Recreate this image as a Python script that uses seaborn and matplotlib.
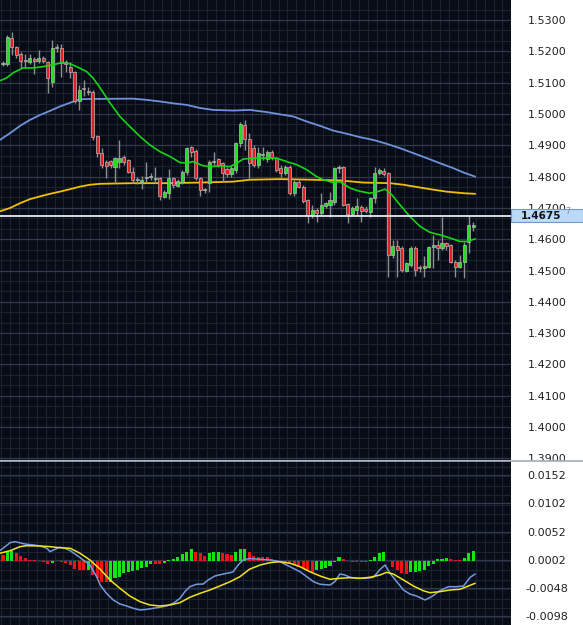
import numpy as np
import pandas as pd
import seaborn as sns
import matplotlib.pyplot as plt
from matplotlib.patches import Rectangle
from matplotlib.lines import Line2D

# ---- price bars (OHLC), one per period ----
opens = [1.5160, 1.5160, 1.5243, 1.5214, 1.5192, 1.5173, 1.5166, 1.5176, 1.5169, 1.5179,
         1.5166, 1.5102, 1.5211, 1.5211, 1.5166, 1.5150, 1.5134, 1.5042, 1.5083, 1.5074,
         1.5071, 1.4930, 1.4876, 1.4847, 1.4850, 1.4831, 1.4847, 1.4863, 1.4854, 1.4815,
         1.4790, 1.4783, 1.4796, 1.4799, 1.4793, 1.4796, 1.4736, 1.4748, 1.4796, 1.4771,
         1.4783, 1.4815, 1.4895, 1.4882, 1.4796, 1.4758, 1.4780, 1.4847, 1.4857, 1.4844,
         1.4825, 1.4809, 1.4822, 1.4908, 1.4965, 1.4921, 1.4892, 1.4838, 1.4870, 1.4857,
         1.4879, 1.4860, 1.4828, 1.4812, 1.4831, 1.4748, 1.4783, 1.4767, 1.4726, 1.4678,
         1.4694, 1.4685, 1.4707, 1.4710, 1.4720, 1.4828, 1.4831, 1.4713, 1.4681, 1.4694,
         1.4704, 1.4697, 1.4688, 1.4732, 1.4812, 1.4819, 1.4812, 1.4551, 1.4579, 1.4573,
         1.4500, 1.4519, 1.4573, 1.4512, 1.4509, 1.4512, 1.4576, 1.4582, 1.4573, 1.4589,
         1.4582, 1.4528, 1.4512, 1.4528, 1.4592, 1.4640]
closes = [1.5163, 1.5246, 1.5214, 1.5189, 1.5169, 1.5169, 1.5179, 1.5169, 1.5179, 1.5169,
          1.5115, 1.5211, 1.5214, 1.5163, 1.5160, 1.5134, 1.5042, 1.5077, 1.5080, 1.5071,
          1.4927, 1.4876, 1.4838, 1.4834, 1.4838, 1.4860, 1.4860, 1.4847, 1.4815, 1.4790,
          1.4793, 1.4790, 1.4799, 1.4803, 1.4796, 1.4739, 1.4752, 1.4796, 1.4774, 1.4787,
          1.4815, 1.4892, 1.4879, 1.4796, 1.4758, 1.4761, 1.4847, 1.4850, 1.4838, 1.4812,
          1.4809, 1.4828, 1.4908, 1.4968, 1.4921, 1.4844, 1.4838, 1.4876, 1.4873, 1.4879,
          1.4860, 1.4822, 1.4812, 1.4831, 1.4748, 1.4783, 1.4767, 1.4723, 1.4678, 1.4694,
          1.4685, 1.4710, 1.4716, 1.4726, 1.4828, 1.4831, 1.4710, 1.4681, 1.4700, 1.4707,
          1.4691, 1.4691, 1.4732, 1.4812, 1.4822, 1.4809, 1.4551, 1.4579, 1.4567, 1.4503,
          1.4525, 1.4573, 1.4503, 1.4509, 1.4515, 1.4576, 1.4582, 1.4573, 1.4589, 1.4579,
          1.4528, 1.4512, 1.4528, 1.4582, 1.4646, 1.4646]
highs = [1.5169, 1.5252, 1.5262, 1.5217, 1.5198, 1.5192, 1.5192, 1.5182, 1.5204, 1.5185,
         1.5169, 1.5236, 1.5224, 1.5224, 1.5173, 1.5166, 1.5138, 1.5093, 1.5109, 1.5086,
         1.5077, 1.4933, 1.4892, 1.4854, 1.4854, 1.4863, 1.4917, 1.4870, 1.4857, 1.4831,
         1.4799, 1.4803, 1.4847, 1.4812, 1.4831, 1.4799, 1.4758, 1.4825, 1.4799, 1.4793,
         1.4822, 1.4895, 1.4898, 1.4889, 1.4799, 1.4764, 1.4854, 1.4879, 1.4860, 1.4847,
         1.4831, 1.4834, 1.4911, 1.4975, 1.4981, 1.4940, 1.4901, 1.4895, 1.4895, 1.4886,
         1.4886, 1.4863, 1.4838, 1.4838, 1.4838, 1.4790, 1.4790, 1.4774, 1.4729, 1.4710,
         1.4700, 1.4748, 1.4720, 1.4752, 1.4831, 1.4838, 1.4834, 1.4716, 1.4707, 1.4732,
         1.4710, 1.4707, 1.4736, 1.4831, 1.4828, 1.4828, 1.4815, 1.4598, 1.4598, 1.4579,
         1.4528, 1.4579, 1.4579, 1.4519, 1.4547, 1.4579, 1.4614, 1.4598, 1.4672, 1.4592,
         1.4586, 1.4535, 1.4551, 1.4592, 1.4675, 1.4656]
lows = [1.5153, 1.5153, 1.5189, 1.5179, 1.5147, 1.5147, 1.5160, 1.5128, 1.5163, 1.5163,
        1.5067, 1.5086, 1.5198, 1.5118, 1.5134, 1.5115, 1.5035, 1.5013, 1.5058, 1.5061,
        1.4917, 1.4863, 1.4828, 1.4796, 1.4828, 1.4780, 1.4828, 1.4838, 1.4812, 1.4780,
        1.4777, 1.4761, 1.4783, 1.4790, 1.4780, 1.4726, 1.4732, 1.4729, 1.4764, 1.4767,
        1.4777, 1.4806, 1.4863, 1.4790, 1.4739, 1.4748, 1.4752, 1.4838, 1.4831, 1.4783,
        1.4799, 1.4799, 1.4812, 1.4895, 1.4886, 1.4796, 1.4831, 1.4828, 1.4854, 1.4847,
        1.4854, 1.4815, 1.4799, 1.4806, 1.4742, 1.4739, 1.4764, 1.4716, 1.4653, 1.4669,
        1.4656, 1.4678, 1.4700, 1.4672, 1.4710, 1.4812, 1.4707, 1.4653, 1.4675, 1.4678,
        1.4656, 1.4685, 1.4672, 1.4716, 1.4806, 1.4803, 1.4480, 1.4541, 1.4480, 1.4496,
        1.4496, 1.4512, 1.4484, 1.4496, 1.4480, 1.4509, 1.4509, 1.4535, 1.4567, 1.4567,
        1.4525, 1.4480, 1.4509, 1.4477, 1.4557, 1.4627]

# ---- moving averages (bar position, price) ----
ma_fast_x = [-0.7, 0.8, 2.3, 4.5, 6.7, 8.9, 11.2, 13.1, 15.0, 16.5, 18.7, 20.1, 21.7, 23.9,
             26.1, 28.3, 30.6, 32.8, 35.0, 37.3, 39.5, 41.0, 42.4, 44.6, 46.2, 48.4, 50.7,
             52.2, 53.6, 55.9, 58.1, 61.1, 63.3, 65.6, 67.8, 70.0, 71.5, 73.7, 75.2, 77.5,
             79.7, 81.9, 83.8, 85.3, 86.8, 88.6, 90.8, 93.1, 95.3, 97.5, 99.8, 102.0, 103.5, 105.4]
ma_fast = [1.5106, 1.5115, 1.5132, 1.5147, 1.5147, 1.5151, 1.5157, 1.5164, 1.5160, 1.5151,
           1.5135, 1.5115, 1.5083, 1.5035, 1.4992, 1.4960, 1.4928, 1.4901, 1.4880, 1.4864,
           1.4845, 1.4843, 1.4848, 1.4835, 1.4832, 1.4834, 1.4832, 1.4843, 1.4856, 1.4859,
           1.4859, 1.4859, 1.4848, 1.4838, 1.4822, 1.4800, 1.4790, 1.4781, 1.4784, 1.4763,
           1.4753, 1.4747, 1.4753, 1.4760, 1.4742, 1.4710, 1.4673, 1.4641, 1.4622, 1.4614,
           1.4604, 1.4593, 1.4593, 1.4601]
ma_mid_x = [-0.7, 1.6, 3.8, 6.0, 8.3, 10.5, 12.7, 15.0, 17.2, 19.4, 29.0, 32.1, 35.0, 38.0,
            41.0, 44.0, 46.9, 51.4, 55.1, 58.9, 61.8, 64.8, 67.8, 70.8, 73.7, 76.7, 79.7,
            82.7, 85.6, 88.6, 91.6, 94.6, 97.5, 100.5, 102.8, 105.4]
ma_mid = [1.4917, 1.4939, 1.4962, 1.4981, 1.4997, 1.5010, 1.5024, 1.5036, 1.5047, 1.5048,
          1.5049, 1.5045, 1.5040, 1.5034, 1.5029, 1.5019, 1.5013, 1.5011, 1.5013, 1.5006,
          1.4999, 1.4992, 1.4976, 1.4962, 1.4947, 1.4937, 1.4926, 1.4917, 1.4905, 1.4891,
          1.4875, 1.4859, 1.4843, 1.4827, 1.4813, 1.4800]
ma_slow_x = [-0.7, 1.6, 3.8, 6.0, 8.3, 10.5, 12.7, 15.0, 17.2, 19.4, 21.7, 29.0, 36.5, 44.0,
             51.4, 55.1, 61.8, 69.3, 75.2, 80.4, 86.4, 89.4, 92.3, 95.3, 99.0, 102.8, 105.4]
ma_slow = [1.4689, 1.4700, 1.4715, 1.4728, 1.4737, 1.4745, 1.4752, 1.4760, 1.4768, 1.4774,
           1.4777, 1.4779, 1.4779, 1.4781, 1.4784, 1.4790, 1.4792, 1.4790, 1.4788, 1.4781,
           1.4779, 1.4774, 1.4767, 1.4760, 1.4752, 1.4747, 1.4745]

last_price = 1.4675
price_ticks = [1.53, 1.52, 1.51, 1.50, 1.49, 1.48, 1.47, 1.46, 1.45, 1.44, 1.43, 1.42,
               1.41, 1.40, 1.39]

# ---- MACD ----
macd_hist = [0.00106, 0.00165, 0.00177, 0.00137, 0.00089, 0.00048, 0.00023, 0.00012, 0.00002, -0.00023,
             -0.00059, -0.00030, -0.00008, -0.00018, -0.00041, -0.00071, -0.00147, -0.00160, -0.00165, -0.00160,
             -0.00248, -0.00307, -0.00367, -0.00370, -0.00365, -0.00307, -0.00278, -0.00218, -0.00190, -0.00186,
             -0.00160, -0.00119, -0.00101, -0.00050, -0.00052, -0.00054, -0.00030, 0.00018, 0.00030, 0.00066,
             0.00119, 0.00165, 0.00207, 0.00165, 0.00137, 0.00094, 0.00137, 0.00154, 0.00156, 0.00137,
             0.00124, 0.00110, 0.00154, 0.00207, 0.00210, 0.00165, 0.00089, 0.00076, 0.00066, 0.00064,
             0.00030, 0.00012, -0.00018, -0.00030, -0.00053, -0.00071, -0.00101, -0.00147, -0.00160, -0.00190,
             -0.00160, -0.00147, -0.00119, -0.00089, -0.00023, 0.00076, 0.00035, 0.00003, -0.00018, -0.00019,
             -0.00020, -0.00021, 0.00018, 0.00076, 0.00137, 0.00160, -0.00002, -0.00101, -0.00160, -0.00207,
             -0.00230, -0.00190, -0.00188, -0.00185, -0.00160, -0.00089, -0.00059, 0.00030, 0.00035, 0.00048,
             0.00030, 0.00018, 0.00017, 0.00059, 0.00137, 0.00177]
macd_x = [-0.7, 1.6, 2.7, 4.9, 6.8, 8.3, 9.8, 10.5, 11.6, 12.7, 13.8, 15.0, 16.4, 17.9, 19.4,
          20.9, 21.7, 23.1, 24.6, 26.1, 27.6, 29.1, 30.6, 32.1, 33.6, 35.0, 36.5, 38.0, 39.5,
          40.6, 41.7, 43.2, 44.7, 45.8, 47.3, 49.2, 50.7, 51.4, 52.5, 53.6, 55.0, 57.4, 59.6,
          61.8, 63.3, 64.8, 66.3, 67.8, 69.3, 70.8, 73.0, 74.1, 75.2, 76.3, 77.5, 78.9, 81.2,
          82.7, 84.2, 85.3, 86.4, 87.9, 89.4, 90.8, 92.3, 94.2, 95.7, 97.5, 99.4, 101.3, 102.8,
          104.3, 105.4]
macd_line = [0.00183, 0.00325, 0.00342, 0.00301, 0.00284, 0.00266, 0.00225, 0.00165, 0.00207, 0.00243,
             0.00225, 0.00183, 0.00106, 0.00018, -0.00071, -0.00278, -0.00426, -0.00573, -0.00691, -0.00762,
             -0.00798, -0.00839, -0.00869, -0.00857, -0.00839, -0.00821, -0.00798, -0.00750, -0.00662, -0.00544,
             -0.00456, -0.00413, -0.00408, -0.00337, -0.00266, -0.00230, -0.00207, -0.00190, -0.00071, 0.00018,
             0.00045, 0.00030, 0.00018, -0.00012, -0.00071, -0.00130, -0.00190, -0.00278, -0.00367, -0.00413,
             -0.00426, -0.00367, -0.00230, -0.00248, -0.00289, -0.00307, -0.00307, -0.00289, -0.00147, -0.00071,
             -0.00218, -0.00367, -0.00514, -0.00585, -0.00621, -0.00691, -0.00633, -0.00527, -0.00456, -0.00456,
             -0.00443, -0.00289, -0.00230]
signal_x = [-0.7, 1.6, 3.8, 5.3, 8.3, 10.5, 12.7, 15.0, 17.2, 19.4, 21.7, 23.9, 26.1, 28.3,
            30.6, 32.8, 35.0, 37.3, 39.5, 41.7, 44.0, 46.2, 48.4, 50.7, 52.9, 55.0, 57.4, 59.6,
            61.8, 64.1, 66.3, 68.5, 70.8, 73.0, 75.2, 77.5, 79.7, 81.9, 84.2, 85.6, 87.1, 89.4,
            91.6, 93.8, 95.3, 97.5, 99.8, 102.0, 103.5, 105.4]
signal_line = [0.00137, 0.00183, 0.00254, 0.00271, 0.00266, 0.00254, 0.00236, 0.00225, 0.00137, 0.00018,
               -0.00147, -0.00337, -0.00484, -0.00621, -0.00722, -0.00780, -0.00798, -0.00780, -0.00739, -0.00644,
               -0.00573, -0.00514, -0.00443, -0.00367, -0.00278, -0.00147, -0.00071, -0.00030, -0.00012, -0.00041,
               -0.00101, -0.00190, -0.00266, -0.00325, -0.00307, -0.00296, -0.00307, -0.00289, -0.00248, -0.00201,
               -0.00230, -0.00337, -0.00443, -0.00527, -0.00562, -0.00544, -0.00514, -0.00502, -0.00456, -0.00395]
macd_ticks = [0.0152, 0.0102, 0.0052, 0.0002, -0.0048, -0.0098]

# ---- style ----
bg = '#080c16'
grid_minor = '#1b2333'
grid_major = '#303a4c'
up_col, down_col = '#1ee01e', '#e61e23'

sns.set_theme(style='dark')
sns.set_style({'axes.facecolor': bg, 'figure.facecolor': 'white'})
plt.rcParams['font.family'] = ['DejaVu Sans']

W, H = 583, 625
fig = plt.figure(figsize=(W / 100, H / 100), dpi=100)
plot_w = 511 / W
ax = fig.add_axes([0, 1 - 460 / H, plot_w, 460 / H], zorder=0)
ax2 = fig.add_axes([0, 0, plot_w, 164 / H], zorder=2)

xlim = (-0.67, 113.4)


def style_grid(a, minor_step, lo, hi):
    a.set_xlim(*xlim)
    a.set_xticks(np.arange(-0.5, xlim[1], 2))
    a.set_xticklabels([])
    a.set_yticks(np.arange(-0.03, 1.6, minor_step), minor=True)
    a.grid(which='major', axis='x', color=grid_minor, lw=0.8)
    a.grid(which='major', axis='y', color=grid_major, lw=0.9)
    a.grid(which='minor', axis='y', color=grid_minor, lw=0.8)
    a.set_ylim(lo, hi)
    for s in a.spines.values():
        s.set_visible(False)
    a.yaxis.tick_right()
    a.tick_params(axis='both', which='both', length=0)
    a.tick_params(axis='y', pad=26, labelsize=8, labelcolor='#222222')


# main panel
ax.set_yticks(price_ticks)
ax.set_yticklabels([f'{p:.4f}' for p in price_ticks])
style_grid(ax, 0.01 / 3, 1.3895, 1.5364)
for lbl in ax.get_yticklabels():
    lbl.set_horizontalalignment('center')

o, c = np.array(opens), np.array(closes)
hi, lo = np.array(highs), np.array(lows)
xi = np.arange(len(o))
ax.vlines(xi, lo, hi, color='#8f8f8f', lw=1, zorder=3)
ax.bar(xi, np.maximum(np.abs(c - o), 0.00003), bottom=np.minimum(o, c), width=0.68,
       color=np.where(c > o, up_col, down_col), edgecolor='#b8b8b8', linewidth=0.5, zorder=4)

sns.lineplot(x=ma_mid_x, y=ma_mid, ax=ax, color='#6f92dc', lw=1.3, zorder=2)
sns.lineplot(x=ma_slow_x, y=ma_slow, ax=ax, color='#f0c000', lw=1.3, zorder=2)
sns.lineplot(x=ma_fast_x, y=ma_fast, ax=ax, color='#16d416', lw=1.2, zorder=5)
ax.axhline(last_price, color='#e4ecf6', lw=1.3, zorder=6)
ax.set_xlabel('')
ax.set_ylabel('')

# MACD panel
ax2.set_yticks(macd_ticks)
ax2.set_yticklabels([f'{v:.4f}' for v in macd_ticks])
style_grid(ax2, 0.005 / 3, -0.01135, 0.01773)
for lbl in ax2.get_yticklabels():
    lbl.set_horizontalalignment('center')
hist = np.array(macd_hist)
rising = np.diff(hist, prepend=hist[0]) > 0
ax2.bar(xi, hist, width=0.68, color=np.where(rising, '#14e614', '#f01414'), linewidth=0, zorder=3)
sns.lineplot(x=macd_x, y=macd_line, ax=ax2, color='#7398dc', lw=1.1, zorder=4)
sns.lineplot(x=signal_x, y=signal_line, ax=ax2, color='#f2e41a', lw=1.1, zorder=5)
ax2.set_xlabel('')
ax2.set_ylabel('')

# white scale strip behind the MACD labels, separator, last-price tag
fig.add_artist(Rectangle((plot_w, 0), 1 - plot_w, 164 / H, transform=fig.transFigure,
                         facecolor='white', edgecolor='none', zorder=1))
fig.add_artist(Line2D([0, 1], [1 - 460.5 / H] * 2, transform=fig.transFigure,
                      color='#a4acb6', lw=1.2, zorder=3))
tag_y = ax.transData.transform((0, last_price))[1] / H
fig.add_artist(Rectangle((plot_w, tag_y - 6.5 / H), 1 - plot_w, 13 / H, transform=fig.transFigure,
                         facecolor='#bcdaf7', edgecolor='#6d9bd0', lw=0.8, zorder=6))
fig.text(541 / W, tag_y, f'{last_price:.4f}', ha='center', va='center', fontsize=7.5,
         fontweight='bold', color='#111111', zorder=7)
fig.text(565 / W, tag_y + 4 / H, '7', ha='left', va='center', fontsize=5.5,
         color='#8a8a8a', zorder=7)

fig.savefig('out.png', dpi=100, facecolor='white')
